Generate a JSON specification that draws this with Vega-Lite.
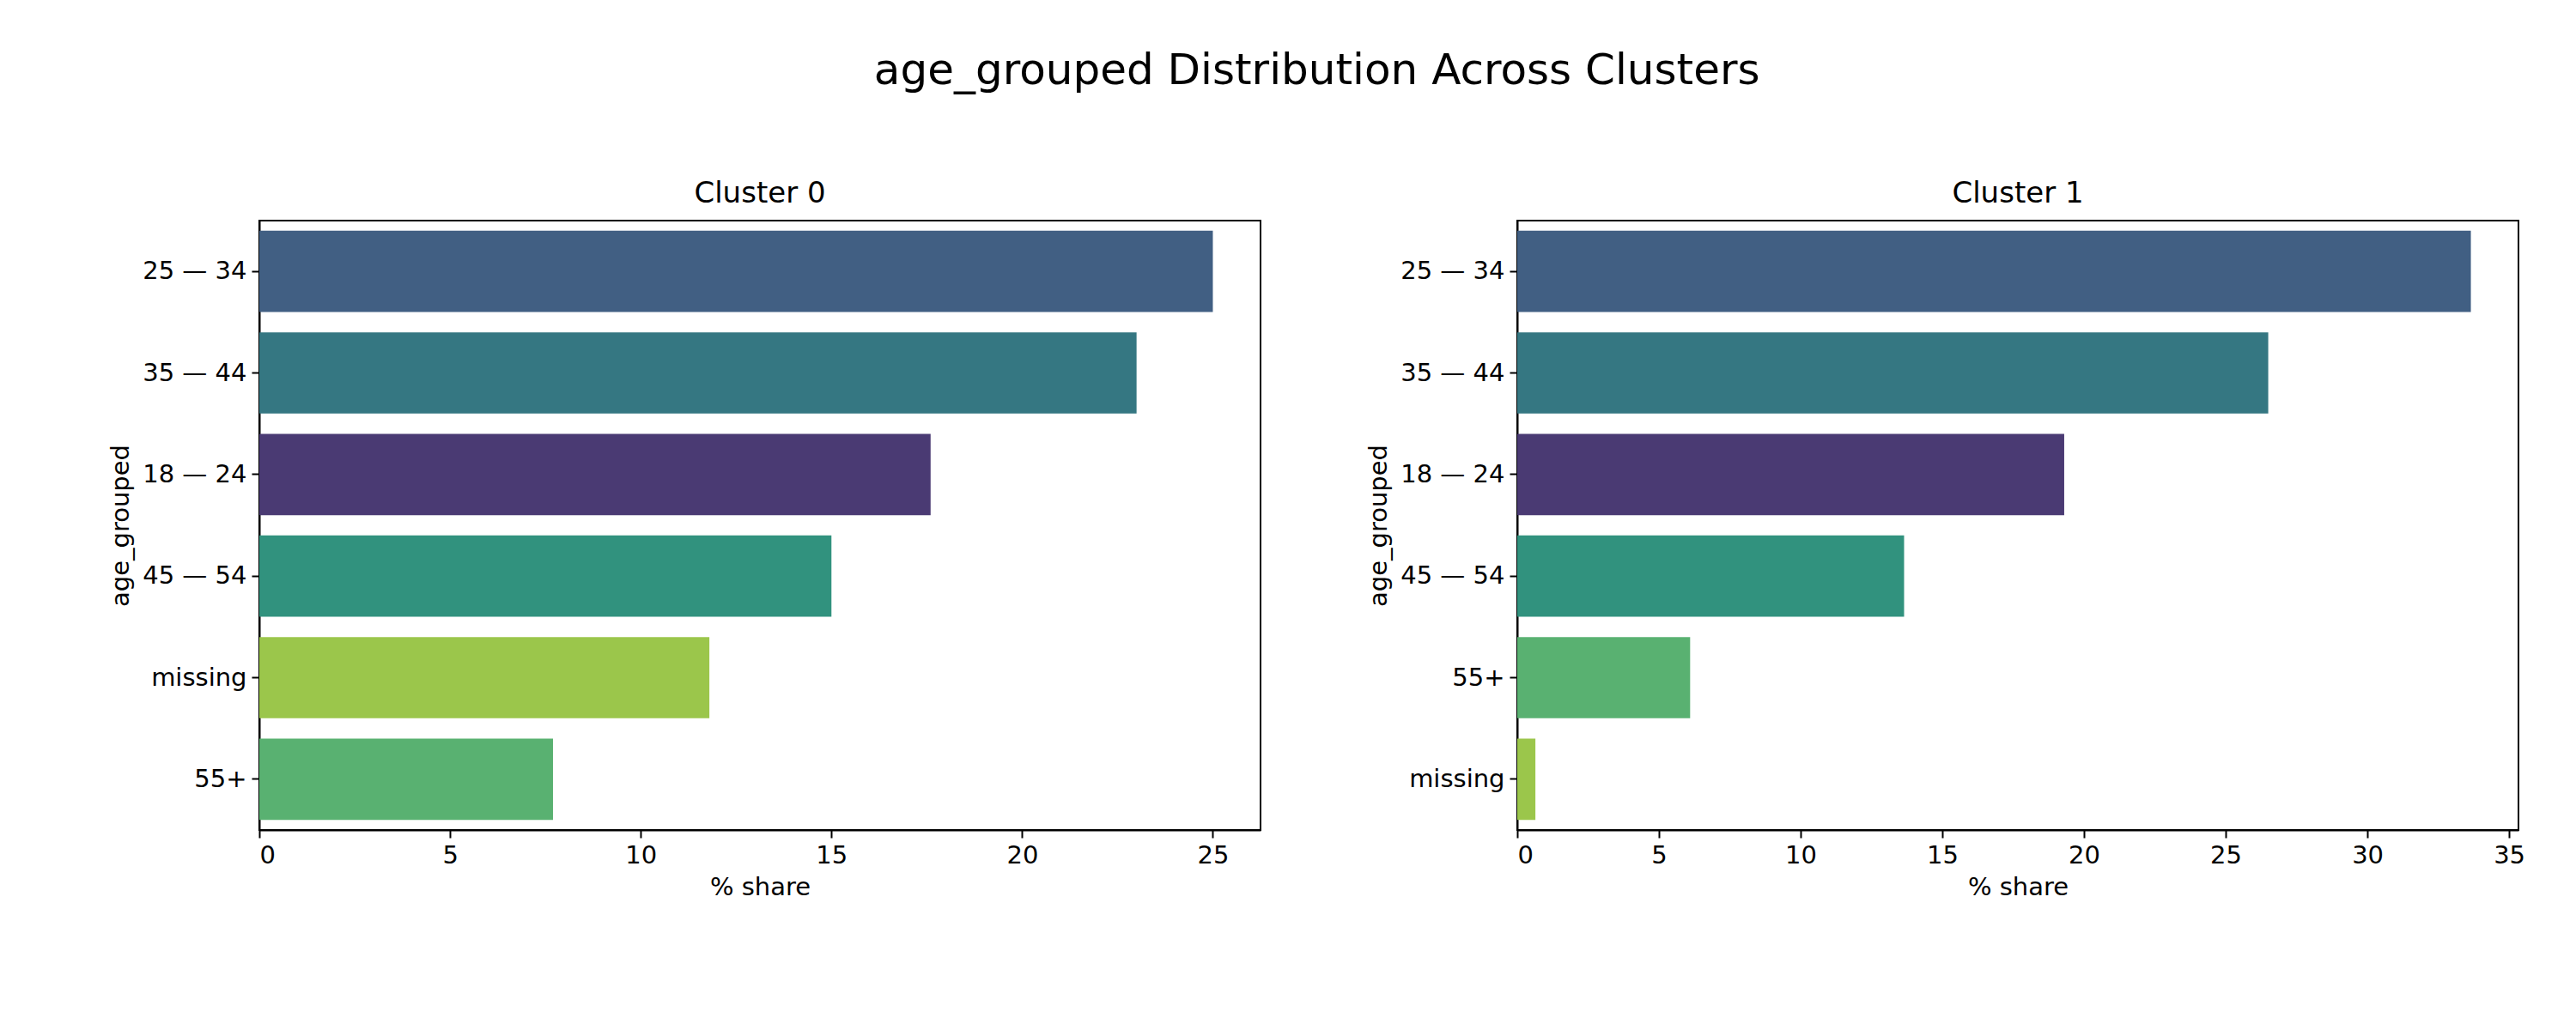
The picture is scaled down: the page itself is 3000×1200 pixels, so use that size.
{
"$schema":"https://vega.github.io/schema/vega-lite/v6.json",
"background":"white",
"padding":{"left":125,"top":58,"right":20,"bottom":10},
"config":{"font":"DejaVu Sans","view":{"stroke":"black","strokeWidth":2},
"axis":{"labelFontSize":29,"titleFontSize":29,"labelColor":"black","titleColor":"black","tickColor":"black","domainColor":"black","tickSize":9,"tickWidth":2,"domainWidth":2,"grid":false,"titleFontWeight":"normal","labelPadding":6},
"title":{"fontSize":34,"fontWeight":"normal","color":"black"},
"concat":{"spacing":121}},
"title":{"text":"age_grouped Distribution Across Clusters","fontSize":50,"fontWeight":"normal","anchor":"middle","offset":100},
"datasets":{"d":[
{"cluster":"Cluster 0","age":"25 — 34","share":25.0},
{"cluster":"Cluster 0","age":"35 — 44","share":23.0},
{"cluster":"Cluster 0","age":"18 — 24","share":17.6},
{"cluster":"Cluster 0","age":"45 — 54","share":15.0},
{"cluster":"Cluster 0","age":"missing","share":11.8},
{"cluster":"Cluster 0","age":"55+","share":7.7},
{"cluster":"Cluster 1","age":"25 — 34","share":33.65},
{"cluster":"Cluster 1","age":"35 — 44","share":26.5},
{"cluster":"Cluster 1","age":"18 — 24","share":19.3},
{"cluster":"Cluster 1","age":"45 — 54","share":13.65},
{"cluster":"Cluster 1","age":"55+","share":6.1},
{"cluster":"Cluster 1","age":"missing","share":0.64}
]},
"hconcat":[
{"width":1166,"height":710,"data":{"name":"d"},"transform":[{"filter":"datum.cluster==='Cluster 0'"}],
"title":{"text":"Cluster 0","offset":14},
"mark":{"type":"bar"},
"encoding":{
"y":{"field":"age","type":"nominal","sort":{"field":"share","order":"descending"},"title":"age_grouped","scale":{"paddingInner":0.2,"paddingOuter":0.1},"axis":{"titlePadding":10}},
"x":{"field":"share","type":"quantitative","title":"% share","scale":{"domain":[0,26.25],"nice":false},"axis":{"values":[0,5,10,15,20,25],"titlePadding":8}},
"color":{"field":"age","type":"nominal","legend":null,"scale":{"domain":["18 — 24","25 — 34","35 — 44","45 — 54","55+","missing"],"range":["#4a3a73","#415f83","#357782","#31927e","#59b171","#9bc64b"]}}}},
{"width":1166,"height":710,"data":{"name":"d"},"transform":[{"filter":"datum.cluster==='Cluster 1'"}],
"title":{"text":"Cluster 1","offset":14},
"mark":{"type":"bar"},
"encoding":{
"y":{"field":"age","type":"nominal","sort":{"field":"share","order":"descending"},"title":"age_grouped","scale":{"paddingInner":0.2,"paddingOuter":0.1},"axis":{"titlePadding":10}},
"x":{"field":"share","type":"quantitative","title":"% share","scale":{"domain":[0,35.33],"nice":false},"axis":{"values":[0,5,10,15,20,25,30,35],"titlePadding":8}},
"color":{"field":"age","type":"nominal","legend":null,"scale":{"domain":["18 — 24","25 — 34","35 — 44","45 — 54","55+","missing"],"range":["#4a3a73","#415f83","#357782","#31927e","#59b171","#9bc64b"]}}}}
]
}
